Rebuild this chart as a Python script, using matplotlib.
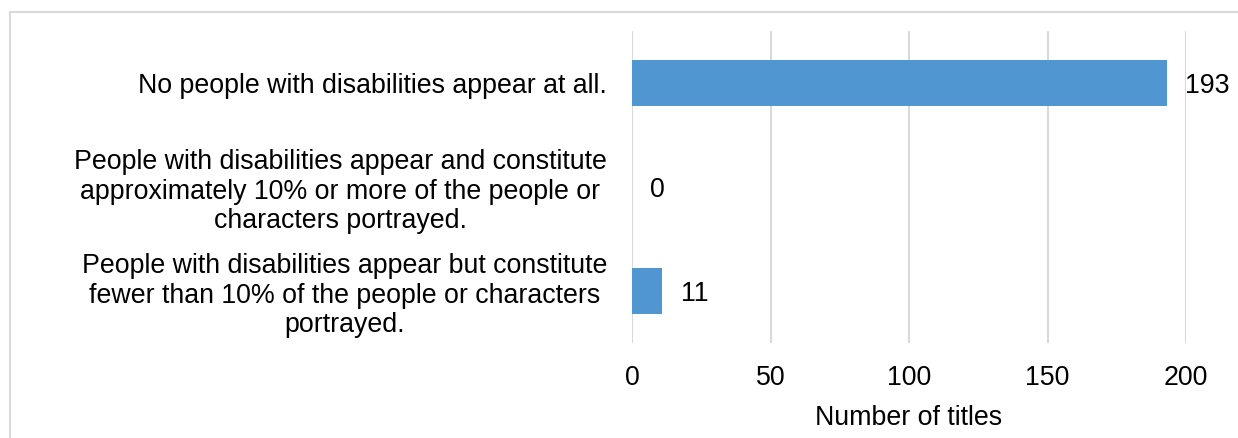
import matplotlib
matplotlib.use("Agg")
import matplotlib.pyplot as plt
from matplotlib.patches import Rectangle

categories = [
    "No people with disabilities appear at all.",
    "People with disabilities appear and constitute\napproximately 10% or more of the people or\ncharacters portrayed.",
    "People with disabilities appear but constitute\nfewer than 10% of the people or characters\nportrayed.",
]
counts = [193, 0, 11]
x_ticks = [0, 50, 100, 150, 200]
x_label = "Number of titles"

bar_color = "#5097d1"
grid_color = "#d9d9d9"

plt.rcParams["font.family"] = ["Liberation Sans", "DejaVu Sans"]
plt.rcParams["font.size"] = 19.3

fig = plt.figure(figsize=(12.38, 4.38), dpi=100)
# light frame around the chart area (cut off at right and bottom)
fig.patches.append(Rectangle((10 / 1238, -0.1), 1.2, 1.1 - 12 / 438,
                             transform=fig.transFigure, fill=False,
                             edgecolor=grid_color, linewidth=1.5))

ax = fig.add_axes([632 / 1238, 1 - 343 / 438, 554 / 1238, 312 / 438])
pos = list(range(len(categories)))
ax.barh(pos, counts, height=0.45, color=bar_color, zorder=3)

for y, v in zip(pos, counts):
    ax.annotate(str(v), (v, y), xytext=(13, 0), textcoords="offset points",
                ha="left", va="center_baseline", fontsize=19.3)

ax.set_xlim(0, 200)
ax.set_ylim(2.5, -0.5)
ax.set_xticks(x_ticks)
ax.set_yticks(pos)
ax.set_yticklabels(categories)
for lab in ax.get_yticklabels():
    lab.set_multialignment("center")
    lab.set_linespacing(1.18)

ax.grid(axis="x", color=grid_color, linewidth=1.5, zorder=0)
ax.tick_params(axis="both", length=0)
ax.tick_params(axis="x", pad=16)
ax.tick_params(axis="y", pad=18)
for s in ax.spines.values():
    s.set_visible(False)
ax.set_xlabel(x_label, labelpad=10)

fig.savefig("out.png", dpi=100)
